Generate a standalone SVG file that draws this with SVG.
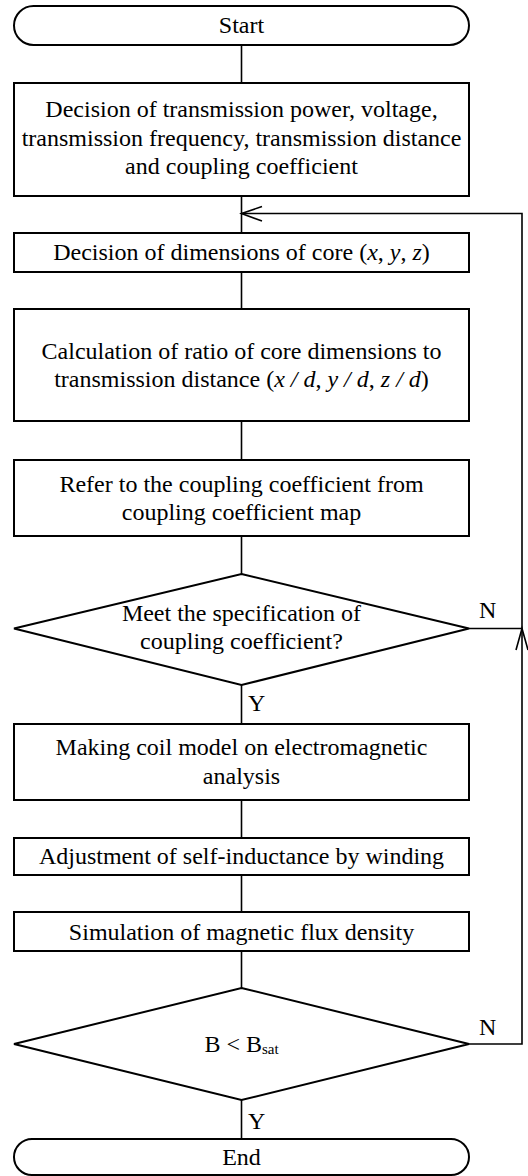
<svg xmlns="http://www.w3.org/2000/svg" width="528" height="1176" viewBox="0 0 528 1176" font-family="'Liberation Serif', Tinos, 'Times New Roman', Times, 'DejaVu Serif', serif">
<defs>
<style>
.shape{fill:#fff;stroke:#000;stroke-width:2}
.ln{fill:none;stroke:#000;stroke-width:1.6}
text{font-family:'Liberation Serif', Tinos, 'Times New Roman', Times, 'DejaVu Serif', serif;font-size:24px;fill:#000;text-anchor:middle}
.lbl{text-anchor:start}
.it{font-style:italic}
</style>
</defs>
<rect width="528" height="1176" fill="#fff"/>
<g id="connectors">
<line class="ln" x1="241.5" y1="45" x2="241.5" y2="83"/>
<line class="ln" x1="241.5" y1="196" x2="241.5" y2="233"/>
<line class="ln" x1="241.5" y1="272" x2="241.5" y2="309"/>
<line class="ln" x1="241.5" y1="421" x2="241.5" y2="460"/>
<line class="ln" x1="241.5" y1="536" x2="241.5" y2="574"/>
<line class="ln" x1="241.5" y1="685" x2="241.5" y2="724"/>
<line class="ln" x1="241.5" y1="800" x2="241.5" y2="838"/>
<line class="ln" x1="241.5" y1="875" x2="241.5" y2="912"/>
<line class="ln" x1="241.5" y1="951" x2="241.5" y2="988"/>
<line class="ln" x1="241.5" y1="1100" x2="241.5" y2="1139"/>
<polyline class="ln" points="469,628.5 522,628.5"/>
<polyline class="ln" points="469,1044 522,1044 522,213.5 241.5,213.5"/>
<polyline class="ln" points="262,206.5 241.5,213.5 262,221"/>
<polyline class="ln" points="516,650 522,628.5 528,650"/>
<text class="lbl" x="479" y="618" font-family="'Liberation Serif', serif">N</text>
<text class="lbl" x="479" y="1035" font-family="'Liberation Serif', serif">N</text>
<text class="lbl" x="248" y="711" font-family="'Liberation Serif', serif">Y</text>
<text class="lbl" x="248" y="1129" font-family="'Liberation Serif', serif">Y</text>
</g>
<g id="start">
<rect class="shape" x="14" y="6" width="455" height="39" rx="19.5"/>
<text x="241.5" y="33">Start</text>
</g>
<g id="decision-params">
<rect class="shape" x="14" y="83" width="455" height="113"/>
<text x="241.5" y="117">Decision of transmission power, voltage,</text>
<text x="241.5" y="145.5">transmission frequency, transmission distance</text>
<text x="241.5" y="174">and coupling coefficient</text>
</g>
<g id="core-dimensions">
<rect class="shape" x="14" y="233" width="455" height="39"/>
<text x="241.5" y="260">Decision of dimensions of core (<tspan class="it">x</tspan>, <tspan class="it">y</tspan>, <tspan class="it">z</tspan>)</text>
</g>
<g id="ratio">
<rect class="shape" x="14" y="309" width="455" height="112"/>
<text x="241.5" y="358.5">Calculation of ratio of core dimensions to</text>
<text x="241.5" y="387">transmission distance (<tspan class="it">x / d</tspan>, <tspan class="it">y / d</tspan>, <tspan class="it">z / d</tspan>)</text>
</g>
<g id="refer-map">
<rect class="shape" x="14" y="460" width="455" height="76"/>
<text x="241.5" y="491.5">Refer to the coupling coefficient from</text>
<text x="241.5" y="520">coupling coefficient map</text>
</g>
<g id="meet-spec">
<polygon class="shape" points="241.5,574 469,628.5 241.5,685 14,628.5"/>
<text x="241.5" y="621">Meet the specification of</text>
<text x="241.5" y="649">coupling coefficient?</text>
</g>
<g id="coil-model">
<rect class="shape" x="14" y="724" width="455" height="76"/>
<text x="241.5" y="755">Making coil model on electromagnetic</text>
<text x="241.5" y="784">analysis</text>
</g>
<g id="self-inductance">
<rect class="shape" x="14" y="838" width="455" height="37"/>
<text x="241.5" y="864">Adjustment of self-inductance by winding</text>
</g>
<g id="flux-sim">
<rect class="shape" x="14" y="912" width="455" height="39"/>
<text x="241.5" y="939.5">Simulation of magnetic flux density</text>
</g>
<g id="bsat-check">
<polygon class="shape" points="241.5,988 469,1044 241.5,1100 14,1044"/>
<text x="241.5" y="1052">B &lt; B<tspan font-size="15" dy="2">sat</tspan></text>
</g>
<g id="end">
<rect class="shape" x="14" y="1139" width="455" height="36" rx="18"/>
<text x="241.5" y="1165">End</text>
</g>
</svg>
